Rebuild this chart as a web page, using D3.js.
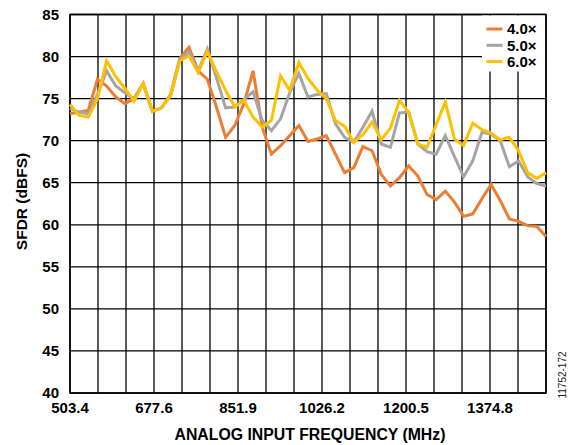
<!DOCTYPE html>
<html><head><meta charset="utf-8">
<script src="https://cdn.jsdelivr.net/npm/d3@7"></script>
<style>
html,body{margin:0;padding:0;background:#fff;}
svg text{font-family:"Liberation Sans",Arial,sans-serif;}
</style></head>
<body><svg id="c" width="573" height="445"></svg>
<script>
const freqs = [503.4,522.4,541.4,560.4,579.4,598.4,617.3,636.3,655.3,674.3,693.3,712.3,731.3,750.3,769.3,788.3,807.2,826.2,845.2,864.2,883.2,902.2,921.2,940.2,959.2,978.2,997.1,1016.1,1035.1,1054.1,1073.1,1092.1,1111.1,1130.1,1149.1,1168.1,1187.0,1206.0,1225.0,1244.0,1263.0,1282.0,1301.0,1320.0,1339.0,1358.0,1376.9,1395.9,1414.9,1433.9,1452.9,1471.9,1490.9];
const s40 = [73.2,73.4,73.6,77.3,76.5,75.2,74.4,75.0,76.8,73.5,73.9,75.5,79.8,81.1,78.3,77.3,74.0,70.4,71.8,74.4,78.3,71.6,68.4,69.4,70.6,71.8,69.9,70.2,70.6,68.4,66.2,66.8,69.3,68.8,66.0,64.6,65.6,67.0,65.8,63.6,63.0,64.0,62.7,61.0,61.3,63.1,64.8,62.9,60.7,60.4,59.9,59.8,58.6];
const s50 = [73.8,73.4,73.2,75.5,78.3,76.5,75.7,75.0,76.8,73.5,73.9,75.4,79.6,80.6,78.3,80.9,77.5,73.9,74.0,74.9,75.8,72.4,71.2,72.6,75.7,78.0,75.2,75.5,75.6,72.0,70.4,69.8,71.6,73.5,69.6,69.2,73.3,73.4,69.6,68.7,68.4,70.6,68.1,65.7,67.6,71.0,70.8,70.0,66.9,67.6,65.7,64.9,64.6];
const s60 = [74.3,73.0,72.8,75.0,79.5,77.6,76.2,74.7,76.8,73.5,73.9,75.4,79.5,80.1,78.1,80.6,78.2,76.0,74.0,74.8,72.8,71.6,72.4,77.7,76.0,79.3,77.4,76.0,75.0,72.4,71.7,69.8,70.7,72.2,70.1,71.5,74.8,73.4,69.6,69.2,71.9,74.6,70.2,69.4,72.1,71.3,70.9,70.1,70.4,68.8,66.2,65.5,66.2];
const seriesNames = ["4.0×","5.0×","6.0×"];
const seriesColors = ["#ED7D31","#A5A5A5","#FFC000"];
const xTickLabels = [503.4,677.6,851.9,1026.2,1200.5,1374.8];
const yTicks = [40,45,50,55,60,65,70,75,80,85];

const svg = d3.select("#c");
const L=70, R=546, T=14.5, B=393;
const x = d3.scaleLinear().domain([503.4,1490.9]).range([L,R]);
const y = d3.scaleLinear().domain([40,85]).range([B,T]);

// grid
const g = svg.append("g");
const gridStep = (1490.9-503.4)/17;
const vgrid = d3.range(18).map(i => 503.4 + i*gridStep);
g.selectAll("line.v").data(vgrid).join("line")
  .attr("x1",d=>x(d)).attr("x2",d=>x(d)).attr("y1",T).attr("y2",B)
  .attr("stroke","#000").attr("stroke-width",1.3);
g.selectAll("line.h").data(yTicks).join("line")
  .attr("x1",L).attr("x2",R).attr("y1",d=>y(d)).attr("y2",d=>y(d))
  .attr("stroke","#000").attr("stroke-width",1.3);
svg.append("rect").attr("x",L).attr("y",T).attr("width",R-L).attr("height",B-T)
  .attr("fill","none").attr("stroke","#000").attr("stroke-width",1.5);

// lines
const data = [s40,s50,s60];
const line = d3.line().x((d,i)=>x(freqs[i])).y(d=>y(d));
data.forEach((s,k)=>{
  svg.append("path").datum(s).attr("d",line).attr("fill","none")
    .attr("stroke",seriesColors[k]).attr("stroke-width",3).attr("stroke-linejoin","miter");
});

// axes labels
svg.append("g").selectAll("text").data(yTicks).join("text")
  .attr("x",59).attr("y",d=>y(d)).attr("dy","0.36em").attr("text-anchor","end")
  .attr("font-size",15).attr("font-weight","bold").text(d=>d);
svg.append("g").selectAll("text").data(xTickLabels).join("text")
  .attr("x",d=>x(d)).attr("y",413).attr("text-anchor","middle")
  .attr("font-size",15).attr("font-weight","bold").text(d=>d.toFixed(1));
svg.append("text").attr("x",310).attr("y",440).attr("text-anchor","middle")
  .attr("font-size",15.8).attr("font-weight","bold").text("ANALOG INPUT FREQUENCY (MHz)");
svg.append("text").attr("transform","translate(26.5,201.5) rotate(-90)").attr("text-anchor","middle")
  .attr("font-size",15.5).attr("font-weight","bold").text("SFDR (dBFS)");
svg.append("text").attr("transform","translate(566,375) rotate(-90)").attr("text-anchor","middle")
  .attr("font-size",10).attr("fill","#222").text("11752-172");

// legend
const lg = svg.append("g");
lg.append("rect").attr("x",482).attr("y",T+1).attr("width",R-482-1).attr("height",56).attr("fill","#fff");
seriesNames.forEach((n,k)=>{
  const yy = 29 + k*16.3;
  lg.append("line").attr("x1",486.5).attr("x2",502.5).attr("y1",yy).attr("y2",yy)
    .attr("stroke",seriesColors[k]).attr("stroke-width",3);
  lg.append("text").attr("x",507).attr("y",yy).attr("dy","0.36em")
    .attr("font-size",15).attr("font-weight","bold").text(n);
});
</script></body></html>
